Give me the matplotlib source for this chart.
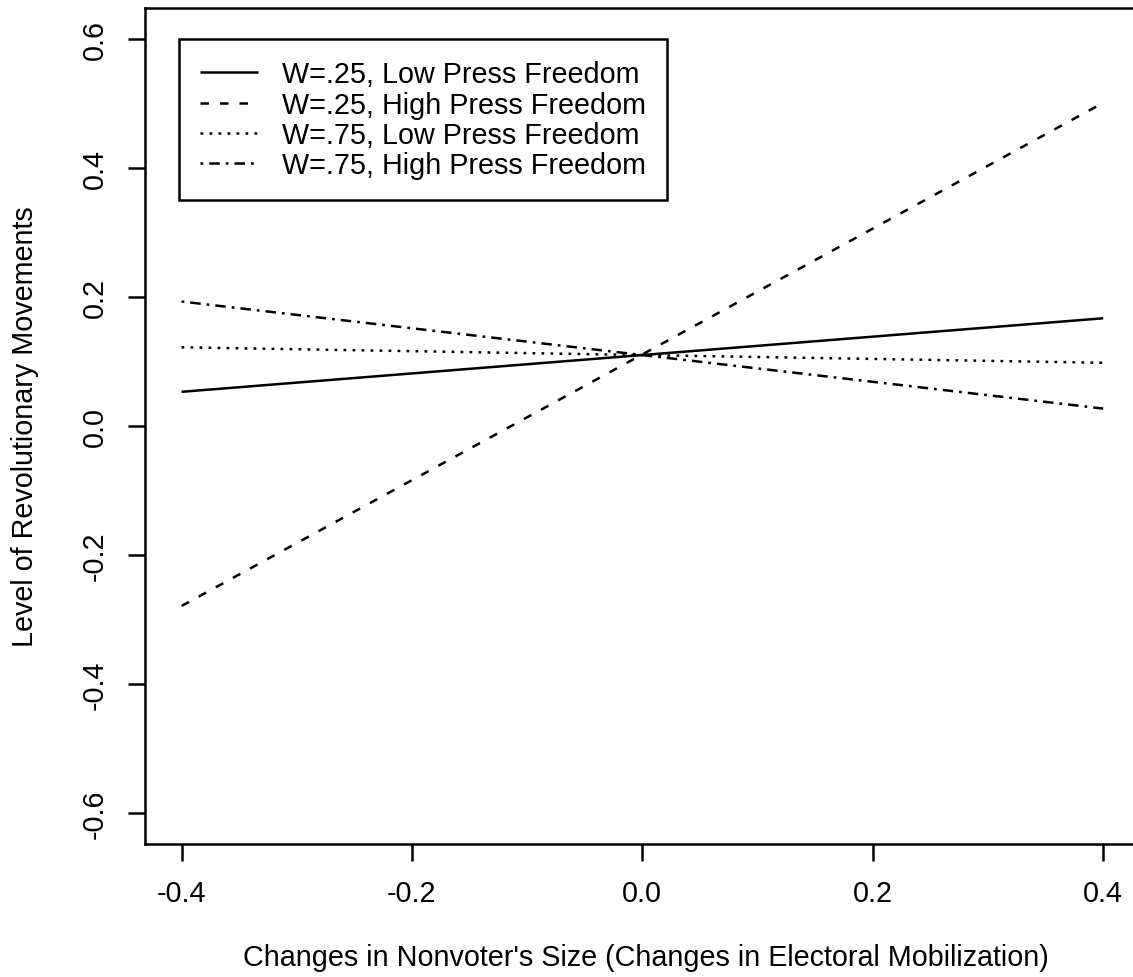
import numpy as np
import matplotlib
matplotlib.use("Agg")
import matplotlib.pyplot as plt
from matplotlib.lines import Line2D
from matplotlib.legend_handler import HandlerLine2D

# values (straight lines crossing near 0.11 at x=0)
x = [-0.4, 0.0, 0.4]
low_w_low_press = [0.053, 0.110, 0.167]
low_w_high_press = [-0.279, 0.111, 0.501]
high_w_low_press = [0.122, 0.110, 0.098]
high_w_high_press = [0.193, 0.110, 0.027]

labels = ["W=.25, Low Press Freedom", "W=.25, High Press Freedom",
          "W=.75, Low Press Freedom", "W=.75, High Press Freedom"]
xticks = [-0.4, -0.2, 0.0, 0.2, 0.4]
yticks = [-0.6, -0.4, -0.2, 0.0, 0.2, 0.4, 0.6]

plt.rcParams["font.family"] = ["Liberation Sans", "DejaVu Sans"]
fs = 20.7
lw = 1.8

fig = plt.figure(figsize=(11.33, 9.78), dpi=100)
ax = fig.add_axes([144.7 / 1133, 133 / 978, 995.3 / 1133, 836 / 978])

styles = ["-", (0, (3.4, 4.4)), (0, (1.1, 2.5)), (0, (1.1, 2.4, 4.2, 2.4))]
series = [low_w_low_press, low_w_high_press, high_w_low_press, high_w_high_press]
for ys, ls, lab in zip(series, styles, labels):
    ax.plot(x, ys, color="black", lw=lw, linestyle=ls, label=lab,
            dash_capstyle="butt", solid_capstyle="butt")

ax.set_xlim(-0.432, 0.432)
ax.set_ylim(-0.648, 0.648)
ax.set_xticks(xticks)
ax.set_xticklabels([f"{v:.1f}" for v in xticks])
ax.set_yticks(yticks)
ax.set_yticklabels([f"{v:.1f}" for v in yticks], rotation=90, va="center")
ax.tick_params(direction="out", length=12.2, width=lw, labelsize=fs, pad=13)
ax.tick_params(axis="y", pad=13.5)
for sp in ax.spines.values():
    sp.set_linewidth(lw)

leg = ax.legend(loc="upper left", bbox_to_anchor=(179 / 1133, 1 - 40 / 978),
                bbox_transform=fig.transFigure, fontsize=fs, frameon=True,
                fancybox=False, edgecolor="black", framealpha=1,
                handlelength=2.02, handletextpad=0.83, labelspacing=0.08,
                borderpad=0.74, borderaxespad=0,
                handler_map={Line2D: HandlerLine2D(marker_pad=0.07)})
leg.get_frame().set_linewidth(lw)

fig.text(646 / 1133, 1 - 966 / 978,
         "Changes in Nonvoter's Size (Changes in Electoral Mobilization)",
         ha="center", va="baseline", fontsize=fs)
fig.text(33 / 1133, 1 - 427 / 978, "Level of Revolutionary Movements",
         ha="center", va="baseline", rotation=90, rotation_mode="anchor",
         fontsize=fs)

fig.savefig("out.png", dpi=100)
